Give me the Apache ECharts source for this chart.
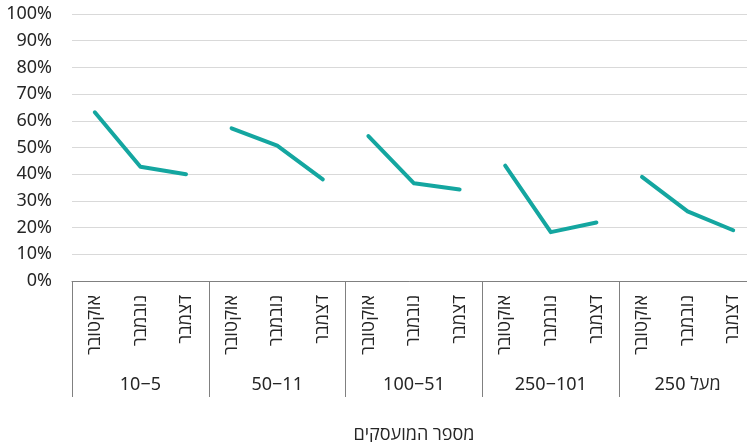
<!DOCTYPE html>
<html>
<head>
<meta charset="utf-8">
<script src="https://cdn.jsdelivr.net/npm/echarts@6/dist/echarts.min.js"></script>
<style>
html,body{margin:0;padding:0;background:#fff;}
#chart{width:747px;height:442px;}
</style>
</head>
<body>
<div id="chart"></div>
<script>
// Data
const months = ['אוקטובר', 'נובמבר', 'דצמבר'];
const groups = ['10−5', '50−11', '100−51', '250−101', 'מעל 250'];
const group1 = [0.632, 0.428, 0.400];
const group2 = [0.572, 0.507, 0.381];
const group3 = [0.543, 0.366, 0.343];
const group4 = [0.432, 0.183, 0.219];
const group5 = [0.390, 0.261, 0.190];
const yTicks = [0, 0.1, 0.2, 0.3, 0.4, 0.5, 0.6, 0.7, 0.8, 0.9, 1.0];
const axisTitle = 'מספר המועסקים';

const groupValues = [group1, group2, group3, group4, group5];
const categories = [];
groups.forEach(() => months.forEach(m => categories.push(m)));

const FONT = "'Noto Sans', 'Open Sans', 'DejaVu Sans', sans-serif";
const TEXT = '#262626';
const LINE = '#14a6a0';
const FS = 18;

const series = groupValues.map((vals, gi) => {
  const data = categories.map(() => null);
  vals.forEach((v, mi) => { data[gi * months.length + mi] = v; });
  return {
    type: 'line',
    xAxisIndex: 0,
    data: data,
    showSymbol: false,
    symbol: 'none',
    connectNulls: false,
    lineStyle: { color: LINE, width: 4, cap: 'round', join: 'round' },
    itemStyle: { color: LINE },
    silent: true,
    animation: false
  };
});

const chart = echarts.init(document.getElementById('chart'), null, { renderer: 'canvas' });
chart.setOption({
  animation: false,
  grid: { left: 72, top: 14, width: 684, bottom: 161, containLabel: false, outerBoundsMode: 'none' },
  xAxis: [
    {
      type: 'category',
      data: categories,
      position: 'bottom',
      boundaryGap: true,
      axisLine: { show: true, lineStyle: { color: '#808080', width: 1 } },
      axisTick: { show: false },
      axisLabel: {
        rotate: 90,
        margin: 14,
        interval: 0,
        color: TEXT,
        fontSize: FS,
        fontFamily: FONT
      },
      splitLine: { show: false }
    },
    {
      type: 'category',
      data: groups,
      position: 'bottom',
      boundaryGap: true,
      axisLine: { show: false },
      axisTick: { show: true, inside: false, length: 116, lineStyle: { color: '#808080', width: 1 } },
      axisLabel: {
        margin: 95,
        interval: 0,
        color: TEXT,
        fontSize: FS,
        fontFamily: FONT
      },
      name: axisTitle,
      nameLocation: 'middle',
      nameGap: 145,
      nameTextStyle: { color: TEXT, fontSize: FS, fontFamily: FONT },
      splitLine: { show: false }
    }
  ],
  yAxis: {
    type: 'value',
    min: yTicks[0],
    max: yTicks[yTicks.length - 1],
    interval: 0.1,
    axisLine: { show: false },
    axisTick: { show: false },
    axisLabel: {
      margin: 20,
      color: TEXT,
      fontSize: FS,
      fontFamily: FONT,
      formatter: v => Math.round(v * 100) + '%'
    },
    splitLine: { show: true, lineStyle: { color: '#d9d9d9', width: 1 } }
  },
  series: series
});
</script>
</body>
</html>
